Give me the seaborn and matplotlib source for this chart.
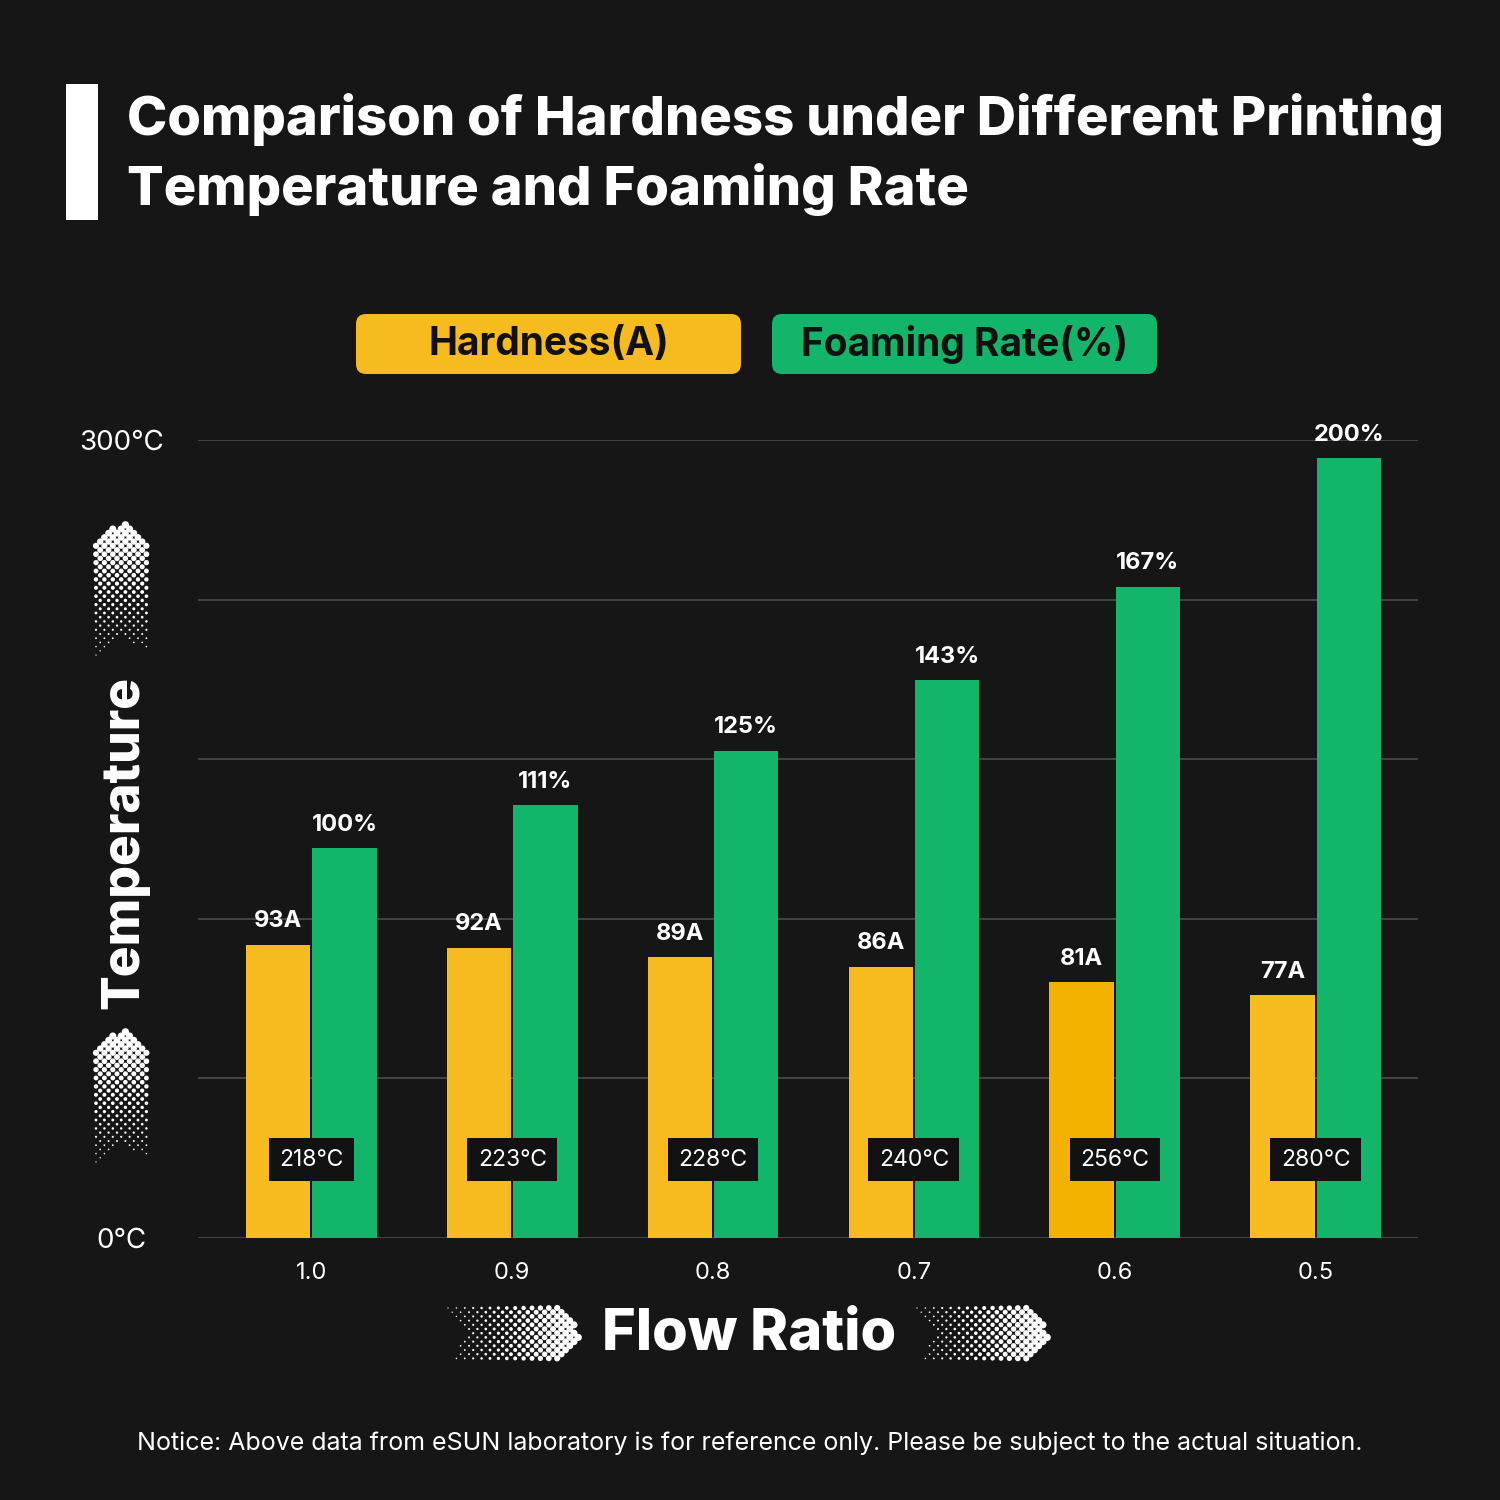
import numpy as np
import pandas as pd
import matplotlib
matplotlib.use("Agg")
import matplotlib.pyplot as plt
from matplotlib.patches import FancyBboxPatch, Rectangle
import seaborn as sns

# ---------------- data ----------------
flows = ["1.0", "0.9", "0.8", "0.7", "0.6", "0.5"]
hardness = [93, 92, 89, 86, 81, 77]          # Shore A
foaming = [100, 111, 125, 143, 167, 200]     # %
temps = [218, 223, 228, 240, 256, 280]       # printing temperature, ℃
y_ticks = [0, 60, 120, 180, 240, 300]
y_ticklabels = ["0℃", "", "", "", "", "300℃"]
series_names = ["Hardness(A)", "Foaming Rate(%)"]

# display scales (bars are drawn against the temperature axis in the original)
HARD_SCALE = 1.186
FOAM_SCALE = 1.466

BG = "#161616"
YELLOW = "#F6BB1E"
YELLOW_DARK = "#F3B100"
GREEN = "#13B56B"
GRID = "#4d4d4d"

sns.set_theme(style="dark")
plt.rcParams["font.family"] = ["Inter", "DejaVu Sans", "Noto Sans CJK SC"]

df = pd.DataFrame({
    "flow": flows * 2,
    "series": [series_names[0]] * len(flows) + [series_names[1]] * len(flows),
    "height": [h * HARD_SCALE for h in hardness] + [f * FOAM_SCALE for f in foaming],
})

W, H = 1500, 1500
fig = plt.figure(figsize=(15, 15), dpi=100, facecolor=BG)

def px_rect(x0, y0, x1, y1):
    return [x0 / W, 1 - y1 / H, (x1 - x0) / W, (y1 - y0) / H]

ax = fig.add_axes(px_rect(198, 440, 1418, 1238))
ax.set_facecolor(BG)

sns.barplot(data=df, x="flow", y="height", hue="series", order=flows,
            hue_order=series_names, palette=[YELLOW, GREEN], width=0.66,
            gap=0.03, saturation=1, legend=False, ax=ax, linewidth=0)

ax.set_ylim(0, 300)
ax.set_xlim(-0.565, 5.51)
ax.set_yticks(y_ticks)
ax.set_yticklabels(y_ticklabels, color="white", fontsize=20, ha="center")
ax.tick_params(axis="y", length=0, pad=55)
ax.tick_params(axis="x", length=0, pad=17, labelsize=17, colors="white")
for lab in ax.get_xticklabels():
    lab.set_color("white")
ax.grid(axis="y", color=GRID, linewidth=1.2)
ax.grid(axis="x", visible=False)
ax.set_axisbelow(True)
for s in ax.spines.values():
    s.set_visible(False)
ax.set_xlabel("")
ax.set_ylabel("")

# darker yellow for the 0.6 bar
hard_bars = ax.containers[0]
foam_bars = ax.containers[1]
hard_bars[flows.index("0.6")].set_facecolor(YELLOW_DARK)

for bar, v in zip(hard_bars, hardness):
    ax.annotate(f"{v}A", (bar.get_x() + bar.get_width() / 2, bar.get_height()),
                xytext=(0, 9), textcoords="offset points", ha="center", va="bottom",
                color="white", fontsize=17, fontweight="bold")
for bar, v in zip(foam_bars, foaming):
    ax.annotate(f"{v}%", (bar.get_x() + bar.get_width() / 2, bar.get_height()),
                xytext=(0, 9), textcoords="offset points", ha="center", va="bottom",
                color="white", fontsize=17, fontweight="bold")
for i, t in enumerate(temps):
    ax.text(i, 29.5, f"{t}℃", ha="center", va="center", color="white", fontsize=16.5,
            bbox=dict(boxstyle="square,pad=0.45", facecolor="#121212", edgecolor="none"))

# ---------------- overlay for decorations (pixel coordinates) ----------------
ov = fig.add_axes([0, 0, 1, 1], zorder=5)
ov.set_xlim(0, W)
ov.set_ylim(H, 0)
ov.axis("off")
ov.patch.set_alpha(0)

ov.add_patch(Rectangle((66, 84), 32, 136, facecolor="white", edgecolor="none"))
ov.text(127, 120, "Comparison of Hardness under Different Printing", color="white",
        fontsize=39.1, fontweight="heavy", ha="left", va="center")
ov.text(127, 189, "Temperature and Foaming Rate", color="white",
        fontsize=39.1, fontweight="heavy", ha="left", va="center")

for (x0, x1), col, name in [((356, 741), YELLOW, series_names[0]),
                            ((772, 1157), GREEN, series_names[1])]:
    ov.add_patch(FancyBboxPatch((x0 + 10, 324), x1 - x0 - 20, 40,
                                boxstyle="round,pad=10", facecolor=col, edgecolor="none"))
    ov.text((x0 + x1) / 2, 344, name, color="#111111", fontsize=28, fontweight="bold",
            ha="center", va="center")

ov.text(125, 842, "Temperature", color="white", fontsize=37, fontweight="heavy",
        rotation=90, ha="center", va="center")
ov.text(749, 1335, "Flow Ratio", color="white", fontsize=41.5, fontweight="heavy",
        ha="center", va="center")
ov.text(750, 1443, "Notice: Above data from eSUN laboratory is for reference only. "
        "Please be subject to the actual situation.", color="white", fontsize=18,
        ha="center", va="center")


def halftone_arrow(cx, cy, length, width, direction):
    """Chevron-shaped halftone arrow on a diagonal dot grid; 'right' or 'up'."""
    step = 8.4
    half = width / 2
    notch = half * 0.92
    us, vs, sizes = [], [], []
    nrows = int(width / (step / 2)) + 1
    for r in range(nrows):
        v = -half + r * step / 2
        off = (step / 2) if r % 2 else 0
        u = off
        while u <= length:
            tail_edge = notch * (1 - abs(v) / half)
            head_edge = length - notch * (abs(v) / half)
            if tail_edge - 0.5 <= u <= head_edge + 0.5:
                frac = u / length
                d = 1.3 + 6.2 * frac ** 1.2
                us.append(u)
                vs.append(v)
                sizes.append((d * 0.72) ** 2)
            u += step
    us = np.array(us)
    vs = np.array(vs)
    if direction == "right":
        xs = cx - length / 2 + us
        ys = cy + vs
    else:
        xs = cx + vs
        ys = cy + length / 2 - us
    ov.scatter(xs, ys, s=sizes, color="white", edgecolors="none")


halftone_arrow(515, 1334, 134, 52, "right")
halftone_arrow(984, 1334, 134, 52, "right")
halftone_arrow(122, 588, 134, 52, "up")
halftone_arrow(122, 1095, 134, 52, "up")

fig.savefig("out.png", dpi=100, facecolor=BG)
